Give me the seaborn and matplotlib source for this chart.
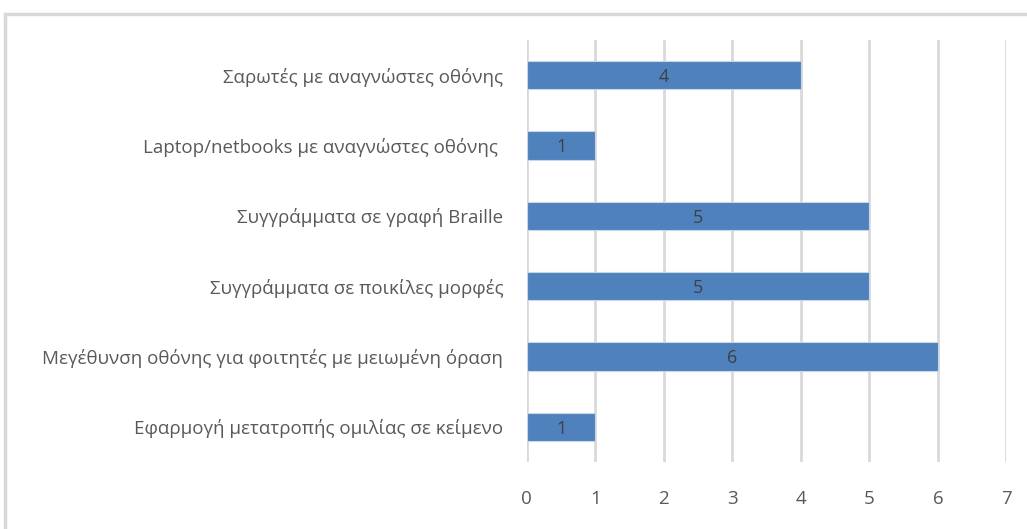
import matplotlib
matplotlib.use("Agg")
import matplotlib.pyplot as plt
import seaborn as sns
import pandas as pd
from matplotlib.patches import Rectangle

# ===================== 数据 =====================
categories = [
    "Σαρωτές με αναγνώστες οθόνης",
    "Laptop/netbooks με αναγνώστες οθόνης ",
    "Συγγράμματα σε γραφή Braille",
    "Συγγράμματα σε ποικίλες μορφές",
    "Μεγέθυνση οθόνης για φοιτητές με μειωμένη όραση",
    "Εφαρμογή μετατροπής ομιλίας σε κείμενο",
]
values = [4, 1, 5, 5, 6, 1]
x_ticks = [0, 1, 2, 3, 4, 5, 6, 7]

df = pd.DataFrame({"category": categories, "value": values})

sns.set_theme(style="white")
plt.rcParams['font.family'] = ['Open Sans', 'DejaVu Sans']

fig = plt.figure(figsize=(10.27, 5.29), dpi=100)
ax = fig.add_axes([0.513, 0.1267, 0.467, 0.7977])

bar_color = "#4F81BD"
sns.barplot(data=df, y="category", x="value", orient="h", color=bar_color,
            saturation=1, width=0.4, edgecolor="#C9D6EA", linewidth=0.8,
            ax=ax, zorder=3)

# 数值标签（居中）
for p, v in zip(ax.patches, values):
    ax.text(p.get_x() + p.get_width() / 2, p.get_y() + p.get_height() / 2, str(v),
            ha="center", va="center_baseline", fontsize=13, color="#404040", zorder=4)

ax.set_xlim(0, 7)
ax.set_xticks(x_ticks)
ax.set_xticklabels([str(t) for t in x_ticks])
ax.set_ylim(5.5, -0.5)
ax.xaxis.grid(True, color="#D9D9D9", linewidth=2)
ax.set_axisbelow(True)
for s in ax.spines.values():
    s.set_visible(False)
ax.set_xlabel("")
ax.set_ylabel("")
ax.tick_params(axis="x", length=0, pad=20, labelsize=13.5, labelcolor="#595959")
ax.tick_params(axis="y", length=0, pad=17, labelsize=13.5, labelcolor="#595959")

# 外框
fig.patches.append(Rectangle((5 / 1027, -0.2), 1.2, 1 - 14 / 529 + 0.2,
                             transform=fig.transFigure, fill=False,
                             edgecolor="#D9D9D9", linewidth=2.5))

fig.savefig("out.png", dpi=100)
